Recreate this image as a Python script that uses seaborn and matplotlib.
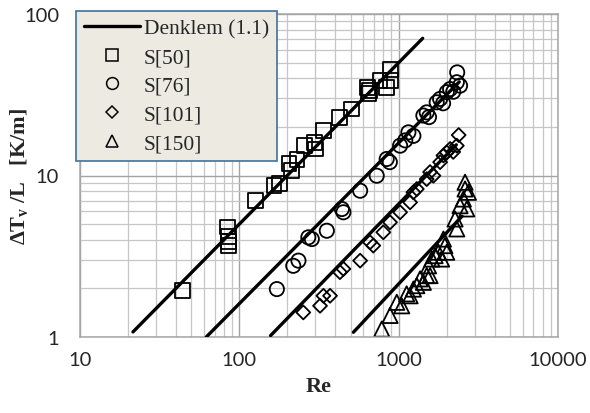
import matplotlib
matplotlib.use("Agg")
import matplotlib.pyplot as plt
import seaborn as sns
import pandas as pd
from matplotlib.lines import Line2D
from matplotlib.ticker import LogLocator, FuncFormatter, NullFormatter

# Deney verileri
RE_S50 = [44, 84, 86, 85, 85, 126, 165, 178, 205, 212, 230, 258, 295, 300,
          336, 428, 508, 640, 650, 655, 764, 841, 883, 885]
DT_S50 = [1.95, 4.8, 4.2, 3.9, 3.7, 7.0, 8.7, 8.9, 11.8, 10.7, 12.5, 15.3, 16.1, 14.6,
          18.9, 22.9, 25.8, 35.2, 32.0, 33.6, 38.6, 35.2, 45.6, 38.6]

RE_S76 = [172, 218, 235, 271, 285, 354, 440, 450, 573, 728, 841, 880, 1021, 1100,
          1151, 1237, 1429, 1500, 1550, 1733, 1820, 1900, 2004, 2103, 2200, 2317, 2428, 2330]
DT_S76 = [1.98, 2.76, 2.97, 4.14, 4.04, 4.55, 6.2, 5.92, 8.05, 9.97, 12.65, 12.1, 15.3, 16.5,
          18.5, 17.6, 23.5, 24.6, 23.0, 28.4, 29.8, 28.0, 32.8, 34.3, 33.0, 37.8, 36.0, 43.5]

RE_S101 = [252, 321, 337, 371, 428, 450, 573, 661, 693, 801, 883, 1021, 1180, 1237,
           1300, 1500, 1574, 1652, 1820, 1909, 2004, 2103, 2200, 2317, 2380]
DT_S101 = [1.42, 1.56, 1.80, 1.80, 2.52, 2.64, 2.97, 3.86, 3.68, 4.45, 5.13, 5.92, 6.82, 7.87,
           8.25, 9.5, 10.5, 9.97, 12.1, 13.3, 13.9, 14.6, 14.0, 15.3, 17.8]

RE_S150 = [783, 883, 973, 1045, 1122, 1180, 1237, 1300, 1363, 1429, 1500, 1574, 1540, 1615,
           1693, 1776, 1860, 1909, 1950, 2004, 2259, 2317, 2428, 2547, 2610, 2610, 2675, 2740]
DT_S150 = [1.12, 1.36, 1.64, 1.56, 1.85, 1.80, 1.98, 2.08, 2.29, 2.18, 2.40, 2.40, 2.76, 3.04,
           3.19, 3.35, 3.04, 4.04, 3.68, 3.35, 5.38, 4.67, 6.5, 7.15, 8.25, 9.08, 6.21, 7.87]

# Denklem (1.1) doğruları: başlangıç / bitiş
DENKLEM_RE = [[21.5, 1415], [62, 2400], [157, 2300], [520, 2500]]
DENKLEM_DT = [[1.075, 70.7], [1.0, 38.0], [1.02, 15.5], [1.07, 5.6]]

SERILER = [
    ("S[50]", RE_S50, DT_S50, "s", 115),
    ("S[76]", RE_S76, DT_S76, "o", 105),
    ("S[101]", RE_S101, DT_S101, "D", 50),
    ("S[150]", RE_S150, DT_S150, "^", 120),
]

sns.set_style("white")
plt.rcParams["mathtext.fontset"] = "custom"
plt.rcParams["mathtext.rm"] = "Liberation Serif"
plt.rcParams["mathtext.bf"] = "Liberation Serif:bold"
plt.rcParams["mathtext.it"] = "Liberation Serif:italic"

fig = plt.figure(figsize=(5.9, 4.14), dpi=100)
ax = fig.add_axes([80 / 590, 76 / 414, 478 / 590, 323 / 414])

# Denklem doğruları
df_lines = pd.DataFrame({
    "Re": [v for pair in DENKLEM_RE for v in pair],
    "DT": [v for pair in DENKLEM_DT for v in pair],
    "grup": [i for i, pair in enumerate(DENKLEM_RE) for _ in pair],
})
sns.lineplot(data=df_lines, x="Re", y="DT", units="grup", estimator=None,
             color="black", linewidth=2.4, ax=ax, zorder=3, legend=False)

# Deney noktaları
for etiket, re, dt, mk, size in SERILER:
    sns.scatterplot(x=re, y=dt, marker=mk, s=size, facecolor="none",
                    edgecolor="black", linewidth=1.3, ax=ax, zorder=2.5)

ax.set_xscale("log")
ax.set_yscale("log")
ax.set_xlim(10, 10000)
ax.set_ylim(1, 100)

fmt = FuncFormatter(lambda v, pos: f"{int(round(v))}")
ax.xaxis.set_major_locator(LogLocator(base=10))
ax.yaxis.set_major_locator(LogLocator(base=10))
ax.xaxis.set_major_formatter(fmt)
ax.yaxis.set_major_formatter(fmt)
ax.xaxis.set_minor_locator(LogLocator(base=10, subs=range(2, 10)))
ax.yaxis.set_minor_locator(LogLocator(base=10, subs=range(2, 10)))
ax.xaxis.set_minor_formatter(NullFormatter())
ax.yaxis.set_minor_formatter(NullFormatter())

ax.grid(True, which="major", color="#A3A3A3", linewidth=1.0)
ax.grid(True, which="minor", color="#C6C6C6", linewidth=0.9)
ax.set_axisbelow(True)
for sp in ax.spines.values():
    sp.set_color("#A6A6A6")
    sp.set_linewidth(1.1)

ax.tick_params(which="both", length=0)
ax.tick_params(axis="x", pad=10)
ax.tick_params(axis="y", pad=15)
for lab in ax.get_xticklabels() + ax.get_yticklabels():
    lab.set_fontfamily("Lato")
    lab.set_fontsize(14.5)

ax.set_xlabel("Re", fontfamily="Liberation Serif", fontweight="bold", fontsize=16, labelpad=6)
ax.set_ylabel(r"$\mathbf{\Delta T_v\ /L\ \ \ [K/m]}$", fontsize=16)
ax.yaxis.set_label_coords(-0.105, 0.5)

# Lejant
handles = [Line2D([0], [0], color="black", lw=2.4, label="Denklem (1.1)")]
for etiket, re, dt, mk, size in SERILER:
    ms = 8.5 if mk != "D" else 6.2
    handles.append(Line2D([0], [0], linestyle="none", marker=mk, markersize=ms,
                          markerfacecolor="none", markeredgecolor="black",
                          markeredgewidth=1.1, label=etiket))
leg = ax.legend(handles=handles, loc="upper left",
                bbox_to_anchor=(76 / 590, 1 - 12 / 414), bbox_transform=fig.transFigure,
                borderaxespad=0, frameon=True, fancybox=False, framealpha=1,
                facecolor="#ECEAE1", edgecolor="#41719C",
                prop={"family": "Liberation Serif", "size": 15.5},
                handlelength=2.6, handletextpad=0.2, labelspacing=0.4, borderpad=0.35)
leg.get_frame().set_linewidth(1.2)

fig.savefig("out.png", dpi=100)
